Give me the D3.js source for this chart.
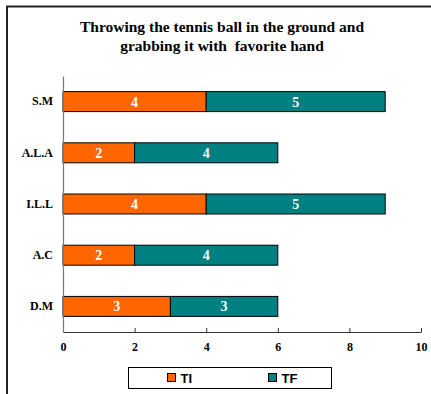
<!DOCTYPE html>
<html>
<head>
<meta charset="utf-8">
<script src="https://cdn.jsdelivr.net/npm/d3@7"></script>
<style>
  html, body { margin: 0; padding: 0; background: #fff; }
  svg { display: block; }
</style>
</head>
<body>
<svg id="chart" width="431" height="394"></svg>
<script>
// Participants, top to bottom
const categories = ["S.M", "A.L.A", "I.L.L", "A.C", "D.M"];
// Series values per participant
const tiValues = [4, 2, 4, 2, 3];
const tfValues = [5, 4, 5, 4, 3];
const seriesNames = ["TI", "TF"];
const xTicks = [0, 2, 4, 6, 8, 10];
const titleLines = ["Throwing the tennis ball in the ground and", "grabbing it with\u00a0 favorite hand"];

const colors = { TI: "#FF6600", TF: "#008080" };
const serif = "Liberation Serif";
const sans = "Liberation Sans";

const svg = d3.select("#chart");

// Outer frame (top and left edges visible)
svg.append("path")
  .attr("d", "M7,400 L7,6.5 L440,6.5")
  .attr("fill", "none")
  .attr("stroke", "#222")
  .attr("stroke-width", 2);

// Title
svg.append("text")
  .attr("x", 222)
  .attr("y", 32)
  .attr("text-anchor", "middle")
  .attr("font-family", serif)
  .attr("font-weight", "bold")
  .attr("font-size", 15.5)
  .selectAll("tspan")
  .data(titleLines)
  .join("tspan")
  .attr("x", 222)
  .attr("dy", (d, i) => i === 0 ? 0 : 19)
  .text(d => d);

const plot = { left: 63, right: 421, top: 76, bottom: 332 };

const x = d3.scaleLinear().domain([0, 10]).range([plot.left, plot.right]);
const y = d3.scaleBand().domain(categories).range([plot.top, plot.bottom]).paddingInner(0.61).paddingOuter(0.305);

const rows = categories.map((c, i) => ({ cat: c, TI: tiValues[i], TF: tfValues[i] }));
const stacked = d3.stack().keys(seriesNames)(rows);

// Bars
const layers = svg.append("g").selectAll("g")
  .data(stacked)
  .join("g")
  .attr("fill", d => colors[d.key]);

layers.selectAll("rect")
  .data(d => d)
  .join("rect")
  .attr("x", d => x(d[0]))
  .attr("y", d => y(d.data.cat))
  .attr("width", d => x(d[1]) - x(d[0]))
  .attr("height", y.bandwidth())
  .attr("stroke", "#000")
  .attr("stroke-width", 1);

// Value labels
layers.selectAll("text")
  .data(d => d.map(v => ({ v, key: d.key })))
  .join("text")
  .attr("x", d => (x(d.v[0]) + x(d.v[1])) / 2)
  .attr("y", d => y(d.v.data.cat) + y.bandwidth() / 2 + 5)
  .attr("text-anchor", "middle")
  .attr("fill", "#fff")
  .attr("font-family", serif)
  .attr("font-weight", "bold")
  .attr("font-size", 14)
  .text(d => d.v.data[d.key]);

// X axis
const xAxis = svg.append("g")
  .attr("transform", `translate(0,${plot.bottom})`)
  .call(d3.axisBottom(x).tickValues(xTicks).tickSizeInner(-4).tickSizeOuter(0).tickPadding(10));
xAxis.select(".domain").attr("stroke", "#333");
xAxis.selectAll(".tick line").attr("stroke", "#333");
xAxis.selectAll("text")
  .attr("font-family", serif)
  .attr("font-weight", "bold")
  .attr("font-size", 12)
  .attr("fill", "#000");

// Y axis
const yAxis = svg.append("g")
  .attr("transform", `translate(${plot.left},0)`)
  .call(d3.axisLeft(y).tickSize(0).tickPadding(10));
yAxis.select(".domain").attr("stroke", "#777").attr("stroke-width", 1.2);
yAxis.selectAll("text")
  .attr("font-family", serif)
  .attr("font-weight", "bold")
  .attr("font-size", 12)
  .attr("fill", "#000");

// Legend
const legend = svg.append("g");
legend.append("rect")
  .attr("x", 128.5).attr("y", 367.5)
  .attr("width", 203).attr("height", 21)
  .attr("fill", "#fff").attr("stroke", "#000");

const legendPos = { TI: 167.5, TF: 268.5 };
const items = legend.selectAll("g.item")
  .data(seriesNames)
  .join("g")
  .attr("class", "item")
  .attr("transform", d => `translate(${legendPos[d]},373.5)`);
items.append("rect")
  .attr("width", 8).attr("height", 8)
  .attr("fill", d => colors[d])
  .attr("stroke", "#000");
items.append("text")
  .attr("x", 13).attr("y", 9)
  .attr("font-family", sans)
  .attr("font-weight", "bold")
  .attr("font-size", 13)
  .text(d => d);
</script>
</body>
</html>
